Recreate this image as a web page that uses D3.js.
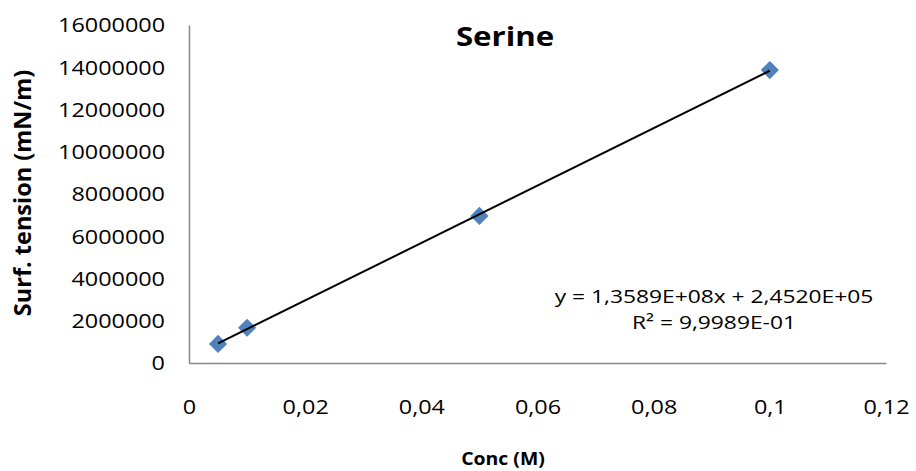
<!DOCTYPE html>
<html>
<head>
<meta charset="utf-8">
<script src="https://cdn.jsdelivr.net/npm/d3@7"></script>
<style>
  html, body { margin: 0; padding: 0; background: #fff; }
  svg { display: block; }
  text { font-family: "Open Sans", "Noto Sans", sans-serif; fill: #000; }
</style>
</head>
<body>
<script>
// ---- data ----
const concM = [0.005, 0.01, 0.05, 0.1];
const surfTension = [903000, 1670000, 6963000, 13867000];
const xTicks = [0, 0.02, 0.04, 0.06, 0.08, 0.1, 0.12];
const xTickLabels = ["0", "0,02", "0,04", "0,06", "0,08", "0,1", "0,12"];
const yTicks = [0, 2000000, 4000000, 6000000, 8000000, 10000000, 12000000, 14000000, 16000000];
const yTickLabels = ["0", "2000000", "4000000", "6000000", "8000000", "10000000", "12000000", "14000000", "16000000"];
const trendCoef = [135890000, 245200]; // slope, intercept
const trendRange = [0.005, 0.1];
const eqLines = ["y = 1,3589E+08x + 2,4520E+05", "R² = 9,9989E-01"];
const chartTitle = "Serine";
const xTitle = "Conc (M)";
const yTitle = "Surf. tension (mN/m)";

// ---- layout ----
const W = 916, H = 471;
const plotL = 189, plotR = 886, plotT = 25, plotB = 363;
const SX = 1.2; // horizontal stretch of the original picture

const svg = d3.select("body").append("svg").attr("width", W).attr("height", H);

const x = d3.scaleLinear().domain([0, 0.12]).range([plotL, plotR]);
const y = d3.scaleLinear().domain([0, 16000000]).range([plotB, plotT]);

function stretchText(sel, tx, ty, sx) {
  sel.attr("transform", `translate(${tx},${ty}) scale(${sx || SX},1)`);
}

// axes
const yAxis = d3.axisLeft(y).tickValues(yTicks).tickSize(0).tickPadding(0)
  .tickFormat((d, i) => yTickLabels[i]);
const gy = svg.append("g").attr("transform", `translate(${plotL},0)`).call(yAxis);
gy.select(".domain").attr("stroke", "#868686").attr("stroke-width", 1.5);
gy.selectAll(".tick text")
  .attr("x", 0).attr("dy", "0.35em")
  .style("font-size", "19.5px")
  .attr("fill", "#000")
  .attr("transform", `translate(-24,0) scale(${SX},1)`);

const xAxis = d3.axisBottom(x).tickValues(xTicks).tickSize(0).tickPadding(0)
  .tickFormat((d, i) => xTickLabels[i]);
const gx = svg.append("g").attr("transform", `translate(0,${plotB})`).call(xAxis);
gx.select(".domain").attr("stroke", "#868686").attr("stroke-width", 1.5);
gx.selectAll(".tick text")
  .attr("y", 0).attr("dy", "0.35em")
  .style("font-size", "19.5px")
  .attr("fill", "#000")
  .attr("transform", `translate(0,44) scale(${SX},1)`);
svg.selectAll("g").attr("font-family", null).attr("font-size", null);

// markers
const diamond = d3.symbol().type(d3.symbolSquare).size(165);
svg.append("g").selectAll("path")
  .data(concM.map((c, i) => [c, surfTension[i]]))
  .join("path")
  .attr("d", diamond)
  .attr("fill", "#4F81BD")
  .attr("transform", d => `translate(${x(d[0])},${y(d[1])}) rotate(45)`);

// trendline
const trendPts = trendRange.map(v => [v, trendCoef[0] * v + trendCoef[1]]);
svg.append("path")
  .datum(trendPts)
  .attr("d", d3.line().x(d => x(d[0])).y(d => y(d[1])))
  .attr("stroke", "#000").attr("stroke-width", 2).attr("fill", "none");

// title
svg.append("text").text(chartTitle)
  .attr("text-anchor", "middle")
  .style("font-size", "26px").style("font-weight", "bold")
  .call(stretchText, 505, 46);

// equation
svg.append("text").text(eqLines[0])
  .attr("text-anchor", "middle").style("font-size", "19px")
  .call(stretchText, 714, 303);
svg.append("text").text(eqLines[1])
  .attr("text-anchor", "middle").style("font-size", "19px")
  .call(stretchText, 714, 329);

// axis titles
svg.append("text").text(xTitle)
  .attr("text-anchor", "middle")
  .style("font-size", "18px").style("font-weight", "bold")
  .call(stretchText, 503, 465, 1.08);

svg.append("text").text(yTitle)
  .attr("text-anchor", "middle")
  .style("font-size", "23.5px").style("font-weight", "bold")
  .attr("transform", `translate(31,193) rotate(-90) scale(1,1.0)`);
</script>
</body>
</html>
